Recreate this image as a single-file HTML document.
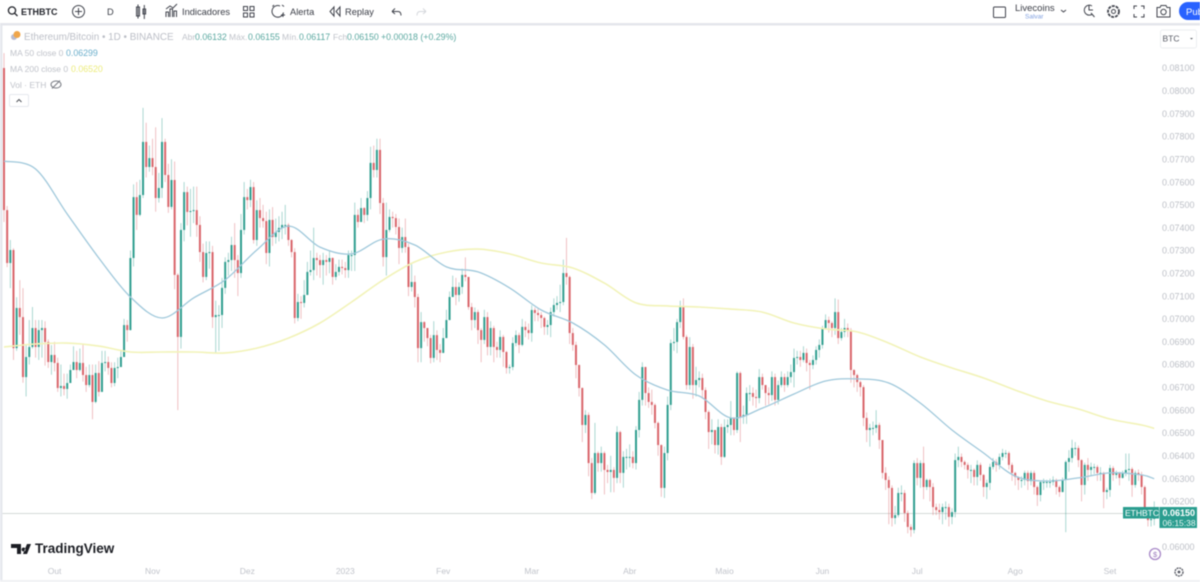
<!DOCTYPE html>
<html lang="pt">
<head>
<meta charset="utf-8">
<title>ETHBTC TradingView</title>
<style>
html,body{margin:0;padding:0;background:#fff;width:1200px;height:582px;overflow:hidden}
svg{display:block;font-family:"Liberation Sans",sans-serif;filter:blur(0.4px)}
.tb{font-size:9.3px;fill:#3a3d46}
.ic{fill:none;stroke:#40434c;stroke-width:1}
.lg{font-size:8.5px;fill:#c0c3ca}
.val{font-size:8.8px;fill:#5aa8a0}
.ax{font-size:9px;fill:#bcbfc6}
.tm{font-size:8.5px;fill:#c0c3ca;text-anchor:middle}
</style>
</head>
<body>
<svg id="chart" width="1200" height="582" viewBox="0 0 1200 582" xmlns="http://www.w3.org/2000/svg">
  <rect x="0" y="0" width="1200" height="582" fill="#ffffff"/>
  <g id="price-axis"></g>
  <line x1="2" y1="513.5" x2="1158" y2="513.5" stroke="#d4dad8" stroke-width="1"/>
  <g id="candles"></g>
  <path id="ma200-line" fill="none" stroke="#f2f3b8" stroke-width="1.6"/>
  <path id="ma50-line" fill="none" stroke="#9fc8db" stroke-width="1.3"/>
  <g id="time-axis"></g>

  <rect x="0" y="24" width="2.5" height="558" fill="#e6e8ee"/>
  <rect x="0" y="580" width="1200" height="2" fill="#f0f1f4"/>

  <g>
    <rect x="0" y="0" width="1200" height="23" fill="#ffffff"/>
    <rect x="0" y="23" width="1200" height="2.5" fill="#e4e6eb"/>
    <g>
      <circle class="ic" cx="12" cy="10.5" r="3.6" style="stroke:#22242b;stroke-width:1.3"/>
      <line x1="14.6" y1="13.2" x2="17.5" y2="16" stroke="#22242b" stroke-width="1.3"/>
      <text x="21" y="15" font-size="9" font-weight="700" fill="#23252c">ETHBTC</text>
    </g>
    <g>
      <circle class="ic" cx="78.5" cy="11.5" r="6"/>
      <path class="ic" d="M78.5 8v7M75 11.5h7"/>
    </g>
    <text class="tb" x="107" y="15">D</text>
    <path class="ic" d="M136.5 7h3v9h-3zM138 4.5v14M143 9h2.6v5H143zM144.3 5v14"/>
    <g>
      <path class="ic" d="M166 17V12h2.5v5M170 17V9h2.5v8M174 17v-6h2.5v6M166 9l4-3 3 2 4-4"/>
      <text class="tb" x="182" y="15">Indicadores</text>
    </g>
    <path class="ic" d="M243.5 6.500h4v4h-4zM250 6.500h4v4h-4zM243.500 13h4v4h-4zM250 13h4v4h-4z"/>
    <g>
      <path class="ic" d="M280 6a5.800 5.800 0 1 0 3.500 6.500M274 5l-1.500 1.500M282 5l2 1.500M283 13v4M281 15h4"/>
      <text class="tb" x="290" y="15">Alerta</text>
    </g>
    <g>
      <path class="ic" d="M334 7l-4 4.500 4 4.500zM340 7l-4 4.500 4 4.500z"/>
      <text class="tb" x="345" y="15">Replay</text>
    </g>
    <path class="ic" d="M392 11.500h6c2 0 3 1.500 3 4M392 11.500l3-3M392 11.500l3 2.500"/>
    <path class="ic" style="stroke:#d5d7dc" d="M426 11.500h-6c-2 0-3 1.500-3 4M426 11.500l-3-3M426 11.500l-3 2.500"/>
    <rect class="ic" x="993.500" y="7" width="12" height="10.500" rx="1"/>
    <text x="1015" y="11" font-size="9.500" fill="#3a3d46">Livecoins</text>
    <text x="1025" y="18.500" font-size="6.500" fill="#7f9fe0">Salvar</text>
    <path class="ic" d="M1061 10l2.500 2 2.500-2"/>
    <path class="ic" d="M1092 6a5 5 0 1 0 0.500 8M1091 13l3.500 4M1089 5v5h4"/>
    <g>
      <circle class="ic" cx="1113.500" cy="11.500" r="5.500" style="stroke-dasharray:3 1;stroke-width:1.800"/>
      <circle class="ic" cx="1113.500" cy="11.500" r="2"/>
    </g>
    <path class="ic" d="M1134 9V6h3M1141 6h3v3M1144 14v3h-3M1137 17h-3v-3"/>
    <g>
      <path class="ic" d="M1157 7.500h3l1-2h5l1 2h3v9.500h-13z"/>
      <circle class="ic" cx="1163.500" cy="12" r="2.700"/>
    </g>
    <g>
      <rect x="1179" y="2" width="32" height="18" rx="9" fill="#2962ff"/>
      <text x="1186" y="15" font-size="9.500" fill="#ffffff">Pub</text>
    </g>
  </g>

  <g>
    <circle cx="14" cy="37" r="3" fill="#b9bcd0"/>
    <circle cx="17" cy="34.500" r="3.500" fill="#f0a64a"/>
    <text x="24" y="40" font-size="9.900" fill="#bcbfc7">Ethereum/Bitcoin • 1D • BINANCE</text>
    <text class="lg" x="182" y="40">Abr</text>
    <text class="val" x="195" y="40">0.06132</text>
    <text class="lg" x="229" y="40">Máx.</text>
    <text class="val" x="248" y="40">0.06155</text>
    <text class="lg" x="282" y="40">Mín.</text>
    <text class="val" x="299" y="40">0.06117</text>
    <text class="lg" x="333" y="40">Fch</text>
    <text class="val" x="347" y="40">0.06150</text>
    <text class="val" x="381" y="40">+0.00018 (+0.29%)</text>
    <text class="lg" x="10" y="56">MA 50 close 0</text>
    <text x="66" y="56" font-size="8.800" fill="#6aaecb">0.06299</text>
    <text class="lg" x="10" y="72">MA 200 close 0</text>
    <text x="71" y="72" font-size="8.800" fill="#ecec7c">0.06520</text>
    <text class="lg" x="10" y="88">Vol · ETH</text>
    <g>
      <ellipse class="ic" cx="56" cy="84.500" rx="5" ry="3.500" style="stroke:#777a82"/>
      <line x1="52" y1="88.500" x2="60" y2="80.500" stroke="#777a82" stroke-width="1"/>
    </g>
    <g>
      <rect x="9.500" y="94.500" width="19" height="12" rx="1.500" fill="#ffffff" stroke="#e6e8ee"/>
      <path d="M16.500 102l2.500-2.500 2.500 2.500" fill="none" stroke="#55585f" stroke-width="1.100"/>
    </g>
  </g>

  <g>
    <rect x="1160.500" y="30" width="36" height="18" rx="2" fill="#ffffff" stroke="#eceef1"/>
    <text x="1162.500" y="41.500" font-size="8.500" fill="#555862">BTC</text>
    <path d="M1190 38h3l-1.500 1.500z" fill="#555862"/>
  </g>

  <g>
    <path fill="#1c1e24" d="M11 544h10v10h-4v-6h-6zM23.500 547.500a2 2 0 1 0 0.100 0zM27 544h4l-4 10h-4z"/>
    <text x="35" y="553" font-size="13.500" font-weight="700" fill="#1c1e24">TradingView</text>
  </g>

  <g>
    <rect x="1123" y="507" width="36" height="11.500" fill="#2a9d8f"/>
    <text x="1125" y="516" font-size="8.500" fill="#ffffff">ETHBTC</text>
    <rect x="1159.500" y="507" width="37.500" height="21" fill="#2a9d8f"/>
    <text x="1162.500" y="516" font-size="9" font-weight="700" fill="#ffffff">0.06150</text>
    <text x="1162.500" y="526" font-size="8.500" fill="#e8f6f3">06:15:38</text>
  </g>

  <g>
    <circle cx="1155" cy="554" r="5.500" fill="#ffffff" stroke="#a98ac8" stroke-width="1.300"/>
    <text x="1153" y="557" font-size="7.500" fill="#9a7abc">$</text>
  </g>
  <g>
    <circle class="ic" cx="1179" cy="572" r="4" style="stroke:#555862;stroke-dasharray:2 .7;stroke-width:1.300"/>
    <circle cx="1179" cy="572" r="1.400" fill="#555862"/>
  </g>
</svg>
<script>
/* Prices are in units of 0.00001 BTC */
const firstOpen = 8100;
const closes = [
7477,7245,7302,6872,7048,7008,6745,6833,6877,6960,
6877,6951,6960,6899,6811,6842,6807,6697,6706,6693,
6719,6776,6811,6776,6807,6754,6710,6754,6636,6763,
6680,6807,6811,6785,6719,6785,6789,6833,6973,6951,
7267,7534,7456,7543,7776,7666,7705,7666,7530,7574,
7776,7631,7491,7609,7193,6921,7390,7556,7469,7473,
7477,7412,7293,7184,7289,7293,7008,7017,7017,7136,
7250,7258,7324,7258,7201,7390,7534,7521,7578,7346,
7477,7442,7429,7289,7434,7359,7381,7399,7412,7412,
7346,7293,7004,7074,7070,7105,7206,7214,7267,7258,
7236,7258,7250,7267,7184,7206,7228,7223,7214,7280,
7280,7456,7425,7486,7456,7530,7684,7653,7741,7508,
7271,7390,7447,7442,7403,7311,7359,7315,7140,7162,
7096,6872,6986,6960,6916,6829,6929,6864,6851,6916,
6995,7096,7140,7105,7140,7193,7184,7052,6995,7030,
6951,6908,7008,6877,6960,6877,6864,6921,6855,6785,
6789,6894,6929,6886,6965,6951,6938,7039,7026,7017,
7004,6965,6973,7030,7061,7070,7074,7201,7184,6938,
6886,6798,6697,6535,6579,6368,6237,6412,6368,6412,
6338,6329,6338,6303,6504,6325,6395,6395,6395,6368,
6513,6645,6789,6675,6636,6623,6544,6447,6259,6412,
6623,6894,6899,6986,7052,6921,6710,6877,6710,6732,
6741,6688,6592,6504,6513,6447,6526,6395,6526,6535,
6566,6513,6763,6570,6579,6675,6675,6658,6653,6745,
6710,6675,6666,6745,6645,6710,6745,6710,6745,6767,
6829,6833,6820,6851,6807,6798,6820,6864,6886,6960,
6995,6982,6960,7030,6916,6943,6960,6951,6776,6754,
6723,6701,6566,6513,6522,6522,6535,6469,6325,6294,
6259,6127,6140,6237,6237,6149,6088,6075,6368,6303,
6368,6263,6294,6263,6175,6162,6153,6175,6175,6132,
6153,6381,6395,6373,6360,6338,6338,6307,6360,6316,
6263,6281,6351,6373,6360,6395,6412,6412,6360,6325,
6307,6294,6294,6325,6289,6325,6263,6228,6285,6285,
6285,6285,6294,6263,6241,6294,6373,6390,6434,6434,
6381,6272,6360,6338,6351,6351,6325,6325,6241,6250,
6346,6316,6325,6303,6325,6338,6342,6272,6325,6316,
6263,6162,6118,6123,6150
];
const highs = [
8165,7495,7346,7310,7095,7170,7135,6885,6995,7052,
6995,6995,6995,6990,6910,6885,6900,6830,6800,6760,
6760,6800,6880,6860,6870,6890,6790,6800,6800,6800,
6815,6860,6860,6835,6810,6810,6830,6860,7000,6995,
7300,7590,7600,7610,7925,7860,7760,7790,7840,7640,
7880,7790,7680,7700,7690,7200,7420,7600,7580,7570,
7580,7580,7450,7330,7340,7340,7320,7080,7060,7180,
7270,7290,7360,7420,7280,7460,7600,7570,7610,7600,
7520,7530,7500,7470,7480,7490,7440,7450,7470,7500,
7420,7350,7310,7110,7100,7170,7250,7300,7400,7290,
7280,7290,7280,7300,7270,7240,7260,7260,7250,7300,
7300,7510,7480,7530,7490,7560,7755,7760,7790,7790,
7530,7510,7480,7470,7460,7440,7400,7440,7330,7240,
7190,7110,7030,6990,6960,6930,6990,6950,6890,6960,
7040,7120,7190,7180,7160,7220,7270,7180,7070,7050,
7040,6960,7040,7030,6990,6970,6900,6950,6930,6860,
6800,6920,6950,6940,7000,6990,6980,7060,7050,7045,
7030,7010,6995,7050,7090,7100,7150,7260,7355,7190,
6960,6900,6800,6700,6600,6590,6390,6544,6420,6440,
6420,6360,6400,6350,6530,6510,6420,6430,6450,6420,
6530,6680,6810,6790,6700,6690,6630,6550,6450,6440,
6660,6910,6960,7000,7080,7090,6930,6920,6890,6790,
6770,6760,6700,6600,6560,6510,6560,6540,6560,6560,
6640,6570,6770,6770,6620,6700,6710,6700,6690,6780,
6760,6710,6700,6770,6760,6730,6770,6760,6770,6800,
6870,6860,6860,6880,6870,6820,6840,6880,6910,6970,
7020,7010,6990,7090,7085,6960,7000,6980,6960,6780,
6760,6730,6710,6590,6540,6550,6600,6545,6460,6350,
6310,6270,6180,6260,6270,6250,6160,6100,6380,6390,
6380,6440,6300,6300,6280,6190,6190,6190,6200,6190,
6170,6410,6440,6410,6380,6370,6360,6345,6380,6370,
6320,6295,6365,6390,6385,6410,6430,6425,6420,6370,
6330,6310,6310,6335,6335,6335,6335,6270,6290,6300,
6295,6300,6310,6300,6270,6305,6380,6425,6470,6460,
6445,6385,6370,6390,6370,6365,6360,6350,6330,6260,
6360,6355,6335,6330,6335,6410,6410,6350,6335,6340,
6330,6270,6160,6150,6200
];
const lows = [
7425,7227,7135,6820,6860,6930,6720,6660,6800,6870,
6830,6820,6830,6795,6785,6755,6770,6680,6660,6665,
6650,6735,6790,6740,6770,6725,6680,6700,6560,6630,
6660,6775,6770,6755,6700,6705,6740,6790,6915,6900,
6950,7230,7390,7450,7530,7620,7645,7630,7470,7510,
7530,7600,7465,7480,7130,6600,6870,7340,7410,7360,
7420,7360,7250,7160,7170,7220,6960,6850,6860,6960,
7110,7190,7210,7180,7100,7180,7370,7480,7490,7330,
7320,7400,7400,7240,7230,7320,7330,7340,7350,7370,
7320,7270,6980,6990,7000,7050,7110,7190,7170,7190,
7180,7150,7190,7200,7150,7170,7190,7195,7180,7180,
7210,7210,7400,7425,7420,7430,7480,7620,7620,7460,
7230,7190,7380,7400,7370,7240,7290,7290,7100,7120,
7050,6810,6810,6900,6880,6805,6810,6820,6810,6850,
6950,7040,7110,7060,7075,7110,7165,7040,6950,6960,
6890,6810,6890,6840,6840,6810,6830,6830,6790,6760,
6760,6775,6880,6850,6880,6920,6910,6900,6990,6990,
6960,6930,6930,6920,7010,7040,7030,7060,7150,6890,
6860,6740,6660,6460,6500,6310,6210,6230,6330,6330,
6230,6280,6240,6240,6280,6280,6260,6340,6350,6345,
6340,6480,6620,6620,6610,6580,6520,6400,6220,6215,
6380,6600,6860,6850,6960,6910,6690,6690,6650,6660,
6700,6650,6560,6430,6450,6410,6405,6360,6390,6500,
6490,6490,6500,6460,6540,6540,6640,6620,6610,6630,
6690,6620,6625,6640,6620,6625,6700,6680,6700,6720,
6700,6800,6790,6810,6770,6690,6780,6800,6830,6870,
6960,6940,6920,6930,6890,6905,6920,6920,6720,6700,
6680,6660,6530,6460,6440,6490,6500,6430,6300,6250,
6100,6090,6100,6130,6200,6110,6060,6045,6060,6270,
6260,6210,6250,6200,6140,6140,6120,6100,6120,6090,
6100,6130,6350,6350,6340,6300,6280,6270,6270,6290,
6220,6210,6250,6340,6330,6340,6380,6390,6340,6290,
6270,6250,6260,6270,6250,6270,6230,6180,6200,6250,
6260,6260,6270,6230,6220,6240,6065,6330,6370,6400,
6350,6200,6230,6290,6310,6320,6290,6290,6170,6210,
6220,6290,6300,6270,6300,6310,6290,6220,6260,6290,
6230,6140,6090,6090,6095
];
const maDays = [0,10,20,30,40,50,60,70,80,90,100,110,120,130,140,150,160,170,180,190,200,210,220,230,240,250,260,270,280,290,300,310,320,330,340,350,360,364];
const ma50Values = [7692,7657,7460,7267,7096,7004,7092,7171,7302,7407,7315,7285,7350,7324,7228,7206,7136,7039,6982,6886,6754,6688,6662,6566,6609,6671,6728,6737,6719,6631,6513,6412,6311,6289,6303,6325,6316,6299];
const ma200Values = [6877,6890,6894,6881,6855,6855,6855,6851,6872,6916,6982,7074,7171,7250,7293,7306,7285,7245,7223,7157,7070,7057,7052,7043,7030,6982,6956,6943,6894,6833,6785,6741,6688,6640,6605,6561,6535,6520];
const priceTicks = [8200,8100,8000,7900,7800,7700,7600,7500,7400,7300,7200,7100,7000,6900,6800,6700,6600,6500,6400,6300,6200,6100,6000];
const priceTickLabels = ["0.08200","0.08100","0.08000","0.07900","0.07800","0.07700","0.07600","0.07500","0.07400","0.07300","0.07200","0.07100","0.07000","0.06900","0.06800","0.06700","0.06600","0.06500","0.06400","0.06300","0.06200","0.06100","0.06000"];
const timeTickDays = [16,47,77,108,139,167,198,228,259,289,320,350];
const timeTickLabels = ["Out","Nov","Dez","2023","Fev","Mar","Abr","Maio","Jun","Jul","Ago","Set"];

const SVGNS = "http://www.w3.org/2000/svg";
function xOf(day){ return 4 + day * 3.16; }
function yOf(price){ return 68 + (8100 - price) * 0.2281; }

const candlesGroup = document.getElementById("candles");
closes.forEach(function(close, i){
  const open = i === 0 ? firstOpen : closes[i - 1];
  const up = close >= open;
  const colour = up ? "#2f9e8f" : "#d9646a";
  const x = xOf(i);
  const wick = document.createElementNS(SVGNS, "line");
  wick.setAttribute("x1", x);
  wick.setAttribute("x2", x);
  wick.setAttribute("y1", yOf(highs[i]));
  wick.setAttribute("y2", yOf(lows[i]));
  wick.setAttribute("stroke", colour);
  wick.setAttribute("stroke-opacity", "0.5");
  wick.setAttribute("stroke-width", "0.8");
  
  
  candlesGroup.appendChild(wick);
  const body = document.createElementNS(SVGNS, "rect");
  const top = yOf(Math.max(open, close));
  const bottom = yOf(Math.min(open, close));
  body.setAttribute("x", x - 1);
  body.setAttribute("width", "2");
  body.setAttribute("y", top);
  body.setAttribute("height", Math.max(bottom - top, 1));
  body.setAttribute("fill", colour);
  
  
  candlesGroup.appendChild(body);
});

function smoothPath(values){
  const pts = values.map(function(v, k){ return [xOf(maDays[k]), yOf(v)]; });
  let d = "M" + pts[0][0].toFixed(1) + " " + pts[0][1].toFixed(1);
  for (let k = 0; k < pts.length - 1; k++) {
    const p0 = pts[Math.max(k - 1, 0)];
    const p1 = pts[k];
    const p2 = pts[k + 1];
    const p3 = pts[Math.min(k + 2, pts.length - 1)];
    const c1x = p1[0] + (p2[0] - p0[0]) / 6;
    const c1y = p1[1] + (p2[1] - p0[1]) / 6;
    const c2x = p2[0] - (p3[0] - p1[0]) / 6;
    const c2y = p2[1] - (p3[1] - p1[1]) / 6;
    d += "C" + c1x.toFixed(1) + " " + c1y.toFixed(1) + " " + c2x.toFixed(1) + " " + c2y.toFixed(1) + " " + p2[0].toFixed(1) + " " + p2[1].toFixed(1);
  }
  return d;
}
document.getElementById("ma50-line").setAttribute("d", smoothPath(ma50Values));
document.getElementById("ma200-line").setAttribute("d", smoothPath(ma200Values));

const priceAxis = document.getElementById("price-axis");
priceTicks.forEach(function(p, k){
  const t = document.createElementNS(SVGNS, "text");
  t.setAttribute("x", "1162");
  t.setAttribute("y", yOf(p) + 3.2);
  t.setAttribute("class", "ax");
  
  
  t.textContent = priceTickLabels[k];
  priceAxis.appendChild(t);
});

const timeAxis = document.getElementById("time-axis");
timeTickDays.forEach(function(d, k){
  const t = document.createElementNS(SVGNS, "text");
  t.setAttribute("x", xOf(d));
  t.setAttribute("y", "574");
  t.setAttribute("class", "tm");
  
  
  t.textContent = timeTickLabels[k];
  timeAxis.appendChild(t);
});
</script>
</body>
</html>
